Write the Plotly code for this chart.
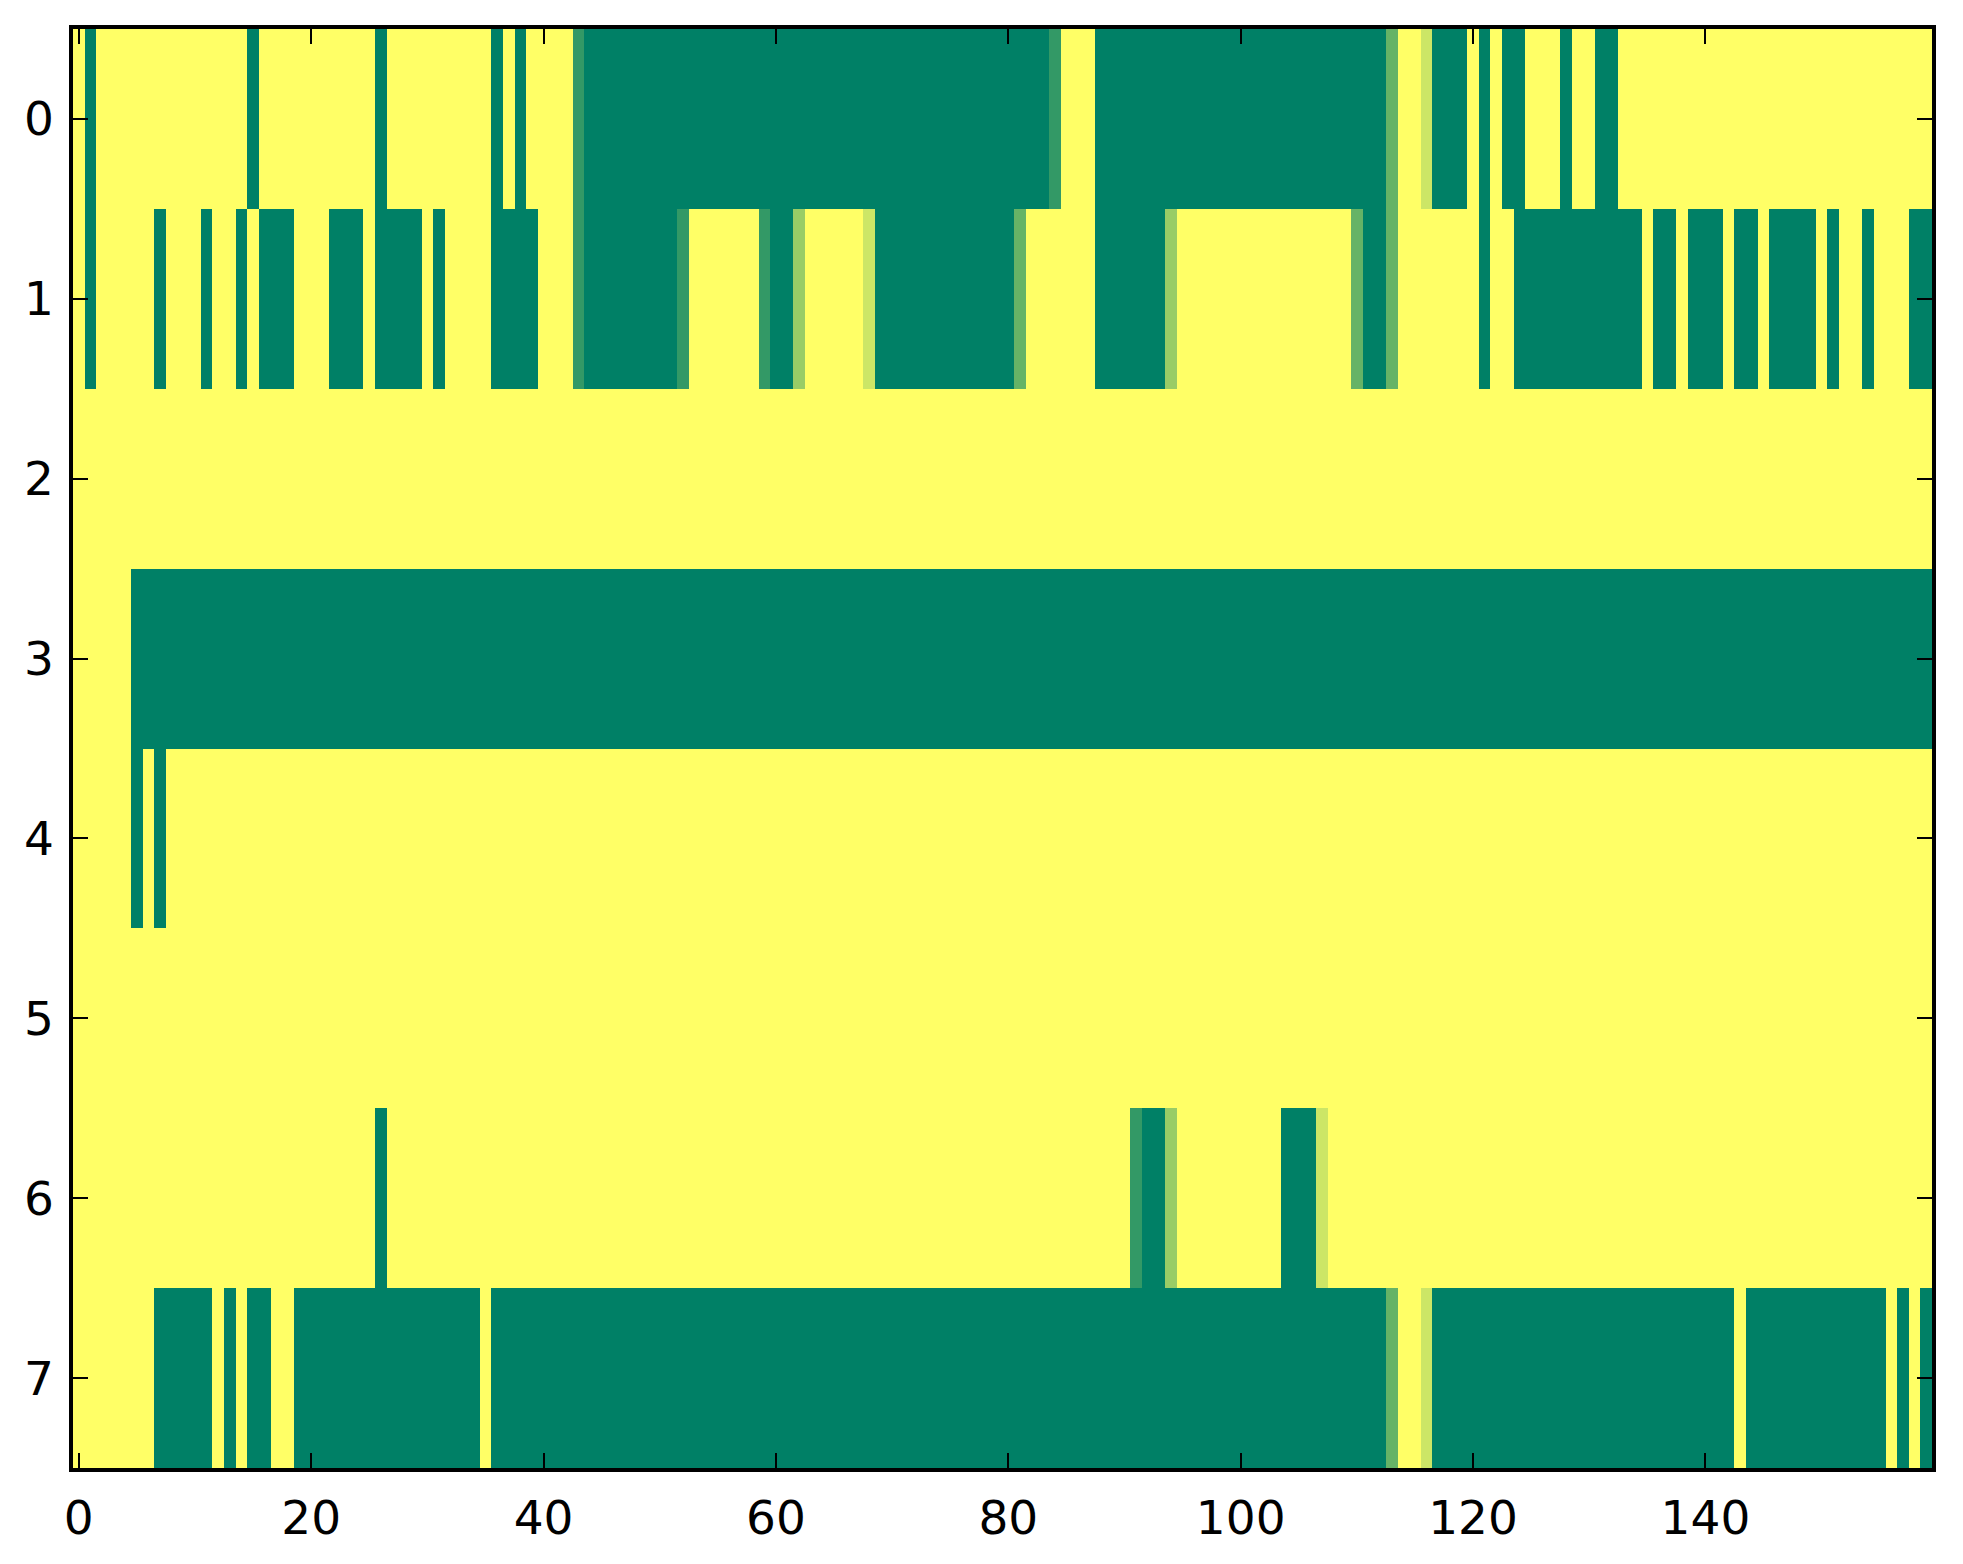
import plotly.graph_objects as go

row_0 = [(5, 1), (0, 1), (5, 13), (0, 1), (5, 10), (0, 1), (5, 9), (0, 1), (5, 1), (0, 1),
         (5, 4), (1, 1), (0, 40), (1, 1), (5, 3), (0, 25), (2, 1), (5, 2), (4, 1), (0, 3),
         (5, 1), (0, 1), (5, 1), (0, 2), (5, 3), (0, 1), (5, 2), (0, 2), (5, 27)]
row_1 = [(5, 1), (0, 1), (5, 5), (0, 1), (5, 3), (0, 1), (5, 2), (0, 1), (5, 1), (0, 3),
         (5, 3), (0, 3), (5, 1), (0, 4), (5, 1), (0, 1), (5, 4), (0, 4), (5, 3), (1, 1),
         (0, 8), (1, 1), (5, 6), (1, 1), (0, 2), (3, 1), (5, 5), (4, 1), (0, 12), (2, 1),
         (5, 6), (0, 6), (3, 1), (5, 15), (2, 1), (0, 2), (2, 1), (5, 7), (0, 1), (5, 2),
         (0, 11), (5, 1), (0, 2), (5, 1), (0, 3), (5, 1), (0, 2), (5, 1), (0, 4), (5, 1),
         (0, 1), (5, 2), (0, 1), (5, 3), (0, 2)]
row_2 = [(5, 160)]
row_3 = [(5, 5), (0, 155)]
row_4 = [(5, 5), (0, 1), (5, 1), (0, 1), (5, 152)]
row_5 = [(5, 160)]
row_6 = [(5, 26), (0, 1), (5, 64), (1, 1), (0, 2), (3, 1), (5, 9), (0, 3), (4, 1), (5, 52)]
row_7 = [(5, 7), (0, 5), (5, 1), (0, 1), (5, 1), (0, 2), (5, 2), (0, 16), (5, 1), (0, 77),
         (2, 1), (5, 2), (4, 1), (0, 26), (5, 1), (0, 12), (5, 1), (0, 1), (5, 1), (0, 1)]

x_ticks = [0, 20, 40, 60, 80, 100, 120, 140]
y_ticks = [0, 1, 2, 3, 4, 5, 6, 7]


def expand(runs):
    out = []
    for level, n in runs:
        out += [level / 5] * n
    return out


z = [expand(r) for r in [row_0, row_1, row_2, row_3, row_4, row_5, row_6, row_7]]

fig = go.Figure(go.Heatmap(
    z=z,
    x=list(range(len(z[0]))),
    y=y_ticks,
    zmin=0, zmax=1,
    colorscale=[[0, 'rgb(0,128,102)'], [1, 'rgb(255,255,102)']],
    showscale=False,
    hoverinfo='skip',
))

axis_style = dict(
    showline=True, linecolor='black', linewidth=3.5, mirror='allticks',
    ticks='inside', ticklen=15, tickwidth=1.5, tickcolor='black',
    showgrid=False, zeroline=False,
    tickfont=dict(family='DejaVu Sans', size=47, color='black'),
)

fig.update_layout(
    width=1963, height=1564,
    margin=dict(l=65, r=39, t=21, b=104),
    paper_bgcolor='white', plot_bgcolor='white',
    xaxis=dict(range=[-0.5, 159.5], tickvals=x_ticks, ticklabelstandoff=6, **axis_style),
    yaxis=dict(range=[7.5, -0.5], tickvals=y_ticks, ticklabelstandoff=6, **axis_style),
)

fig.write_html("out.html")
